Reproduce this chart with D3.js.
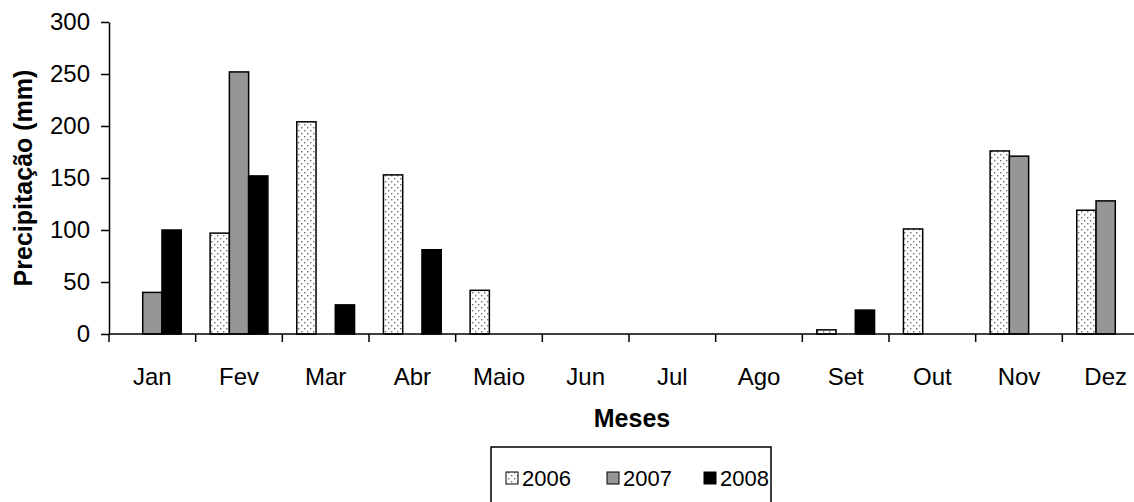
<!DOCTYPE html>
<html>
<head>
<meta charset="utf-8">
<style>
body{ margin:0; background:#fff; }
svg text{ font-family: "Liberation Sans", Arial, sans-serif; fill:#000; }
.axis path, .axis line{ stroke:#000; stroke-width:1.5; }
</style>
<script src="https://d3js.org/d3.v7.min.js"></script>
</head>
<body>
<script>
var w = 1134;
var h = 502;

// data (mm)
var months = ["Jan", "Fev", "Mar", "Abr", "Maio", "Jun", "Jul", "Ago", "Set", "Out", "Nov", "Dez"];
var years = ["2006", "2007", "2008"];
var rain2006 = [0, 97, 204, 153, 42, 0, 0, 0, 4, 101, 176, 119];
var rain2007 = [40, 252, 0, 0, 0, 0, 0, 0, 0, 0, 171, 128];
var rain2008 = [100, 152, 28, 81, 0, 0, 0, 0, 23, 0, 0, 0];
var yTicks = [0, 50, 100, 150, 200, 250, 300];

var series = [rain2006, rain2007, rain2008];
var fills = ["url(#dots)", "#969696", "#000"];

var plotLeft = 109, plotRight = 1149, plotTop = 22, plotBottom = 334;

var svg = d3.select("body")
    .append("svg")
    .attr("width", w)
    .attr("height", h);

// dotted pattern for 2006
var pat = svg.append("defs").append("pattern")
    .attr("id", "dots")
    .attr("patternUnits", "userSpaceOnUse")
    .attr("width", 6)
    .attr("height", 6);
pat.append("rect").attr("width", 6).attr("height", 6).attr("fill", "#fff");
pat.append("rect").attr("x", 1).attr("y", 1).attr("width", 1.4).attr("height", 1.4).attr("fill", "#707070");
pat.append("rect").attr("x", 4).attr("y", 4).attr("width", 1.4).attr("height", 1.4).attr("fill", "#707070");

var xScale = d3.scaleBand()
    .domain(months)
    .range([plotLeft, plotRight])
    .paddingInner(0)
    .paddingOuter(0);

var xSub = d3.scaleBand()
    .domain(years)
    .range([0, xScale.bandwidth()])
    .paddingOuter(0.75)
    .paddingInner(0);

var yScale = d3.scaleLinear()
    .domain([0, 300])
    .range([plotBottom, plotTop]);

// bars
years.forEach(function(yr, i){
    var rows = months.map(function(m, j){ return {m: m, v: series[i][j]}; })
        .filter(function(d){ return d.v > 0; });
    svg.append("g").selectAll("rect")
        .data(rows)
        .enter()
        .append("rect")
        .attr("x", function(d){ return xScale(d.m) + xSub(yr); })
        .attr("y", function(d){ return yScale(d.v); })
        .attr("width", xSub.bandwidth())
        .attr("height", function(d){ return plotBottom - yScale(d.v); })
        .attr("fill", fills[i])
        .attr("stroke", "#000")
        .attr("stroke-width", 1.5);
});

// y axis
var yAxis = svg.append("g")
    .attr("class", "axis")
    .attr("transform", "translate(" + plotLeft + ",0)")
    .call(d3.axisLeft(yScale).tickValues(yTicks).tickSize(8).tickSizeOuter(0).tickPadding(11));
yAxis.selectAll("text").style("font-size", "24px");

// x axis with ticks between categories
var xAxis = svg.append("g")
    .attr("class", "axis")
    .attr("transform", "translate(0," + plotBottom + ")");
xAxis.append("line")
    .attr("x1", plotLeft).attr("x2", plotRight)
    .attr("y1", 0).attr("y2", 0);
xAxis.selectAll(".sep")
    .data(months)
    .enter()
    .append("line")
    .attr("x1", function(d){ return xScale(d); })
    .attr("x2", function(d){ return xScale(d); })
    .attr("y1", 0).attr("y2", 8);
xAxis.selectAll(".lab")
    .data(months)
    .enter()
    .append("text")
    .attr("x", function(d){ return xScale(d) + xScale.bandwidth() / 2; })
    .attr("y", 51)
    .attr("text-anchor", "middle")
    .style("font-size", "24px")
    .text(function(d){ return d; });

// axis titles
svg.append("text")
    .attr("x", 632)
    .attr("y", 427)
    .attr("text-anchor", "middle")
    .style("font-size", "25px")
    .style("font-weight", "bold")
    .text("Meses");

svg.append("text")
    .attr("transform", "translate(32," + ((plotTop + plotBottom) / 2) + ") rotate(-90)")
    .attr("text-anchor", "middle")
    .style("font-size", "25px")
    .style("font-weight", "bold")
    .text("Precipitação (mm)");

// legend
var legend = svg.append("g");
legend.append("rect")
    .attr("x", 491).attr("y", 447)
    .attr("width", 280).attr("height", 70)
    .attr("fill", "#fff")
    .attr("stroke", "#000")
    .attr("stroke-width", 1.5);
var legX = [506, 607, 704];
years.forEach(function(yr, i){
    legend.append("rect")
        .attr("x", legX[i]).attr("y", 472)
        .attr("width", 12).attr("height", 12)
        .attr("fill", fills[i])
        .attr("stroke", "#000")
        .attr("stroke-width", 1);
    legend.append("text")
        .attr("x", legX[i] + 16)
        .attr("y", 486)
        .style("font-size", "22px")
        .text(yr);
});
</script>
</body>
</html>
